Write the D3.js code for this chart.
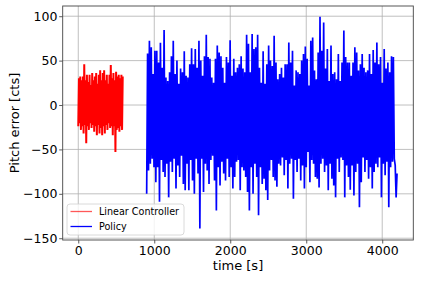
<!DOCTYPE html>
<html>
<head>
<meta charset="utf-8">
<script src="https://cdn.jsdelivr.net/npm/d3@7"></script>
<style>
  body { margin: 0; background: #fff; }
  text { font-family: "DejaVu Sans", sans-serif; }
</style>
</head>
<body>
<div id="chart-area"></div>
<script>
// values (peaks / troughs of each trace)
const xTicks = [0, 1000, 2000, 3000, 4000]
const yTicks = [-150, -100, -50, 0, 50, 100]

const linearSpan = [0, 585]
const linearHigh = [30, 32, 28, 32, 46, 28, 34, 26, 34, 22.5, 36, 28, 32, 36, 24, 34, 39,
    28, 36, 39, 28, 34, 24, 34, 45, 30, 36, 28, 37.5, 32, 34, 30, 34, 32]
const linearLow = [-24, -20.6, -28, -24, -32, -22.5, -43, -24, -28, -20.6, -26, -22.5, -30,
    -24, -34, -22.5, -32, -26, -34, -24, -32, -22.5, -28, -20.6, -26, -24, -34, -24, -53,
    -28, -26, -30, -24, -28]

const policySpan = [900, 4195]
const policyHigh = [58, 72.5, 65, 35, 61, 61, 48, 70, 42, 84.5, 31, 27, 37, 55, 72.5, 35, 50,
    24, 41, 37, 60.5, 33, 31, 46, 64, 46, 63, 42, 72.5, 50, 33, 55, 79, 54, 52, 31, 25, 52,
    67, 59, 55, 42, 25, 54, 48, 73, 33, 52, 37, 42, 46, 55, 41, 37, 79, 69, 37, 80, 63, 65,
    79, 42, 25, 60.5, 24,
    46, 67, 50, 44, 78, 48, 29, 35, 42, 31, 46, 46, 70.5, 48, 61, 22, 39, 37, 35, 50, 57.5,
    66, 52, 22, 72.5, 76, 39, 29, 59, 99.5, 61, 93, 41, 63, 27, 67, 35, 37, 29, 57.5, 27, 48,
    84, 54, 48, 48, 33, 48, 65, 59, 39, 46, 57.5, 42, 37, 39, 57.5, 35, 62, 48, 70.5, 46, 54,
    25, 63, 41, 48, 37, 55, 54]
const policyLow = [-100, -73.6, -66, -60.5, -70, -87, -70, -109, -62, -75.5, -81, -66, -104,
    -64, -75.5, -60.5, -94, -68, -81, -57, -89, -96, -66, -96, -62, -85, -100, -60.5, -77,
    -139, -60.5, -98, -66, -73.6, -89, -62, -57, -85, -118.7, -70, -90.5, -64, -77, -85,
    -60.5, -81, -70, -94, -81, -64, -62, -96, -70, -73.6, -81, -98, -118.7, -70, -100, -66,
    -81, -124, -70, -89, -83, -96, -107, -73.6, -62, -81, -85,
    -92, -66, -68, -59, -79, -62, -94, -66, -60.5, -105.5, -62, -75.5, -60.5, -85, -68, -94,
    -70, -53, -87, -62, -66, -81, -83, -93, -66, -60.5, -75.5, -68, -96, -66, -83, -90.5,
    -104, -60.5, -75.5, -59, -62, -104, -68, -81, -95.5, -68, -102, -75.5, -66, -115, -87,
    -59, -75.5, -62, -83, -70, -94, -75.5, -66, -70, -59, -104, -66, -79, -64, -115, -70,
    -64, -60.5, -68, -104, -77]

// alternate trough / peak so the trace swings like the recorded signal,
// then spread the samples evenly over the time span
function trace(span, highs, lows) {
    const seq = []
    const n = Math.max(highs.length, lows.length)
    for (let i = 0; i < n; i++) {
        if (i < lows.length) seq.push(lows[i])
        if (i < highs.length) seq.push(highs[i])
    }
    const dt = (span[1] - span[0]) / (seq.length - 1)
    return seq.map((v, k) => ({ t: span[0] + k * dt, v }))
}

const linearData = trace(linearSpan, linearHigh, linearLow)
const policyData = trace(policySpan, policyHigh, policyLow)

const W = 421, H = 281
const margin = { left: 62.7, right: 7.7, top: 6, bottom: 41 }
const width = W - margin.left - margin.right
const height = H - margin.top - margin.bottom

const svg = d3.select('#chart-area').append('svg')
    .attr('width', W)
    .attr('height', H)

const xScale = d3.scaleLinear()
    .domain([-205, 4409])
    .range([0, width])

const yScale = d3.scaleLinear()
    .domain([-152, 111.5])
    .range([height, 0])

const g = svg.append('g')
    .attr('transform', `translate(${margin.left}, ${margin.top})`)

g.append('clipPath').attr('id', 'clip')
    .append('rect').attr('width', width).attr('height', height)

// grid
g.append('g').selectAll('line').data(xTicks).enter().append('line')
    .attr('x1', d => xScale(d)).attr('x2', d => xScale(d))
    .attr('y1', 0).attr('y2', height)
    .attr('stroke', '#b0b0b0').attr('stroke-width', 0.8)
g.append('g').selectAll('line').data(yTicks).enter().append('line')
    .attr('y1', d => yScale(d)).attr('y2', d => yScale(d))
    .attr('x1', 0).attr('x2', width)
    .attr('stroke', '#b0b0b0').attr('stroke-width', 0.8)

const line = d3.line()
    .x(d => xScale(d.t))
    .y(d => yScale(d.v))

const plot = g.append('g').attr('clip-path', 'url(#clip)')
plot.append('path')
    .datum(linearData)
    .attr('d', line)
    .attr('fill', 'none')
    .attr('stroke', 'red')
    .attr('stroke-width', 2)
    .attr('stroke-linejoin', 'miter')
    .attr('stroke-miterlimit', 1.5)
plot.append('path')
    .datum(policyData)
    .attr('d', line)
    .attr('fill', 'none')
    .attr('stroke', 'blue')
    .attr('stroke-width', 1.7)
    .attr('stroke-linejoin', 'miter')
    .attr('stroke-miterlimit', 1.5)

const fmt = d => d < 0 ? '\u2212' + Math.abs(d) : String(d)

const xAxisCall = d3.axisBottom(xScale)
    .tickValues(xTicks)
    .tickFormat(fmt)
    .tickSize(3.5)
    .tickPadding(2.2)
g.append('g')
    .attr('class', 'x axis')
    .attr('transform', `translate(0, ${height})`)
    .call(xAxisCall)

const yAxisCall = d3.axisLeft(yScale)
    .tickValues(yTicks)
    .tickFormat(fmt)
    .tickSize(3.5)
    .tickPadding(1.8)
g.append('g')
    .attr('class', 'y axis')
    .call(yAxisCall)

g.selectAll('.axis .domain').remove()
g.selectAll('.axis text').attr('font-size', '12.5px').attr('fill', '#000')
    .attr('font-family', '"DejaVu Sans", sans-serif')
g.selectAll('.axis line').attr('stroke', '#333').attr('stroke-width', 0.8)

// frame
g.append('rect')
    .attr('width', width).attr('height', height)
    .attr('fill', 'none')
    .attr('stroke', '#444')
    .attr('stroke-width', 0.9)

g.append('text')
    .attr('class', 'x axis-label')
    .attr('x', width / 2)
    .attr('y', height + 29.5)
    .attr('font-size', '13px')
    .attr('text-anchor', 'middle')
    .text('time [s]')

g.append('text')
    .attr('class', 'y axis-label')
    .attr('x', -height / 2)
    .attr('y', -44)
    .attr('font-size', '13px')
    .attr('text-anchor', 'middle')
    .attr('transform', 'rotate(-90)')
    .text('Pitch error [cts]')

// legend
const legendItems = [
    { name: 'Linear Controller', color: 'red' },
    { name: 'Policy', color: 'blue' }
]
const legend = g.append('g').attr('transform', 'translate(4.3, 198)')
legend.append('rect')
    .attr('width', 117).attr('height', 31)
    .attr('rx', 3)
    .attr('fill', 'rgba(255,255,255,0.8)')
    .attr('stroke', '#d0d0d0')
    .attr('stroke-width', 0.8)
const items = legend.selectAll('.item').data(legendItems).enter().append('g')
    .attr('transform', (d, i) => `translate(0, ${7.5 + i * 15})`)
items.append('line')
    .attr('x1', 3.5).attr('x2', 25)
    .attr('stroke', d => d.color)
    .attr('stroke-width', 1.3)
    .attr('opacity', d => d.color === 'red' ? 0.65 : 1)
items.append('text')
    .attr('x', 32)
    .attr('dy', '0.35em')
    .attr('font-size', '9.6px')
    .text(d => d.name)
</script>
</body>
</html>
